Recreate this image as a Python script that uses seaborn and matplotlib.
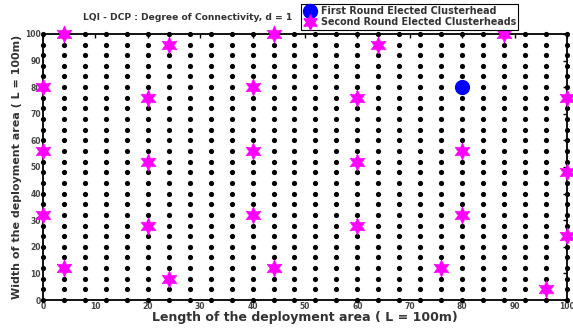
import numpy as np
import pandas as pd
import matplotlib
matplotlib.use("Agg")
import matplotlib.pyplot as plt
import seaborn as sns
from matplotlib.lines import Line2D

# ---- data ----
grid_coords = [0, 4, 8, 12, 16, 20, 24, 28, 32, 36, 40, 44, 48, 52, 56, 60,
               64, 68, 72, 76, 80, 84, 88, 92, 96, 100]
first_x = [80]
first_y = [80]
second_x = [4, 24, 44, 64, 88,
            0, 20, 40, 60, 100,
            0, 20, 40, 60, 80, 100,
            0, 20, 40, 60, 80, 100,
            4, 24, 44, 76, 96]
second_y = [100, 96, 100, 96, 100,
            80, 76, 80, 76, 76,
            56, 52, 56, 52, 56, 48,
            32, 28, 32, 28, 32, 24,
            12, 8, 12, 12, 4]
xticks = [0, 10, 20, 30, 40, 50, 60, 70, 80, 90, 100]
yticks = [0, 10, 20, 30, 40, 50, 60, 70, 80, 90, 100]

title = "LQI - DCP : Degree of Connectivity, d = 1"
xlabel = "Length of the deployment area ( L = 100m)"
ylabel = "Width of the deployment area ( L = 100m)"
legend_labels = ["First Round Elected Clusterhead", "Second Round Elected Clusterheads"]

gx, gy = np.meshgrid(grid_coords, grid_coords)
nodes = pd.DataFrame({"x": gx.ravel(), "y": gy.ravel()})
first = pd.DataFrame({"x": first_x, "y": first_y})
second = pd.DataFrame({"x": second_x, "y": second_y})

sns.set_style("white")
plt.rcParams["font.family"] = ["DejaVu Sans"]

fig = plt.figure(figsize=(5.73, 3.29), dpi=100)
ax = fig.add_axes([0.075, 0.088, 0.9145, 0.809])

hexagram = (6, 1, 0)
sns.scatterplot(data=nodes, x="x", y="y", ax=ax, color="black", s=14,
                edgecolor="black", linewidth=0, zorder=2, clip_on=False)
sns.scatterplot(data=second, x="x", y="y", ax=ax, color="#FF00FF", s=150,
                marker=hexagram, edgecolor="#FF00FF", linewidth=0.5, zorder=3,
                clip_on=False)
sns.scatterplot(data=first, x="x", y="y", ax=ax, color="#0000FF", s=120,
                edgecolor="#0000FF", linewidth=0, zorder=3, clip_on=False)

ax.set_xlim(0, 100)
ax.set_ylim(0, 100)
ax.set_xticks(xticks)
ax.set_yticks(yticks)
ax.set_xticklabels([str(t) for t in xticks], fontsize=5.5, fontweight="bold")
ax.set_yticklabels([str(t) for t in yticks], fontsize=5.5, fontweight="bold")
ax.tick_params(direction="in", length=3, width=1, top=True, right=True, pad=1.5,
               colors="black", labelcolor="#444444")
for s in ax.spines.values():
    s.set_visible(True)
    s.set_color("black")
    s.set_linewidth(1.3)
ax.set_xlabel(xlabel, fontsize=9, fontweight="bold", color="#333333", labelpad=0)
ax.set_ylabel(ylabel, fontsize=8, fontweight="bold", color="#333333", labelpad=2)

fig.text(83 / 573, 1 - 17 / 329, title, fontsize=6.6, fontweight="bold",
         color="#333333", ha="left", va="center", zorder=1)

handles = [
    Line2D([], [], marker="o", linestyle="none", color="#0000FF", markersize=10),
    Line2D([], [], marker=hexagram, linestyle="none", color="#FF00FF", markersize=11),
]
leg = fig.legend(handles, legend_labels, loc="upper left",
                 bbox_to_anchor=(301 / 573, 1 - 4 / 329),
                 prop={"size": 6.9, "weight": "bold"}, frameon=True,
                 fancybox=False, edgecolor="black", framealpha=1,
                 borderpad=0.25, labelspacing=0.1, handletextpad=0.5,
                 handlelength=1.3, borderaxespad=0)
leg.set_zorder(10)
leg.get_frame().set_linewidth(0.8)
for t in leg.get_texts():
    t.set_color("#333333")

fig.savefig("out.png", dpi=100)
